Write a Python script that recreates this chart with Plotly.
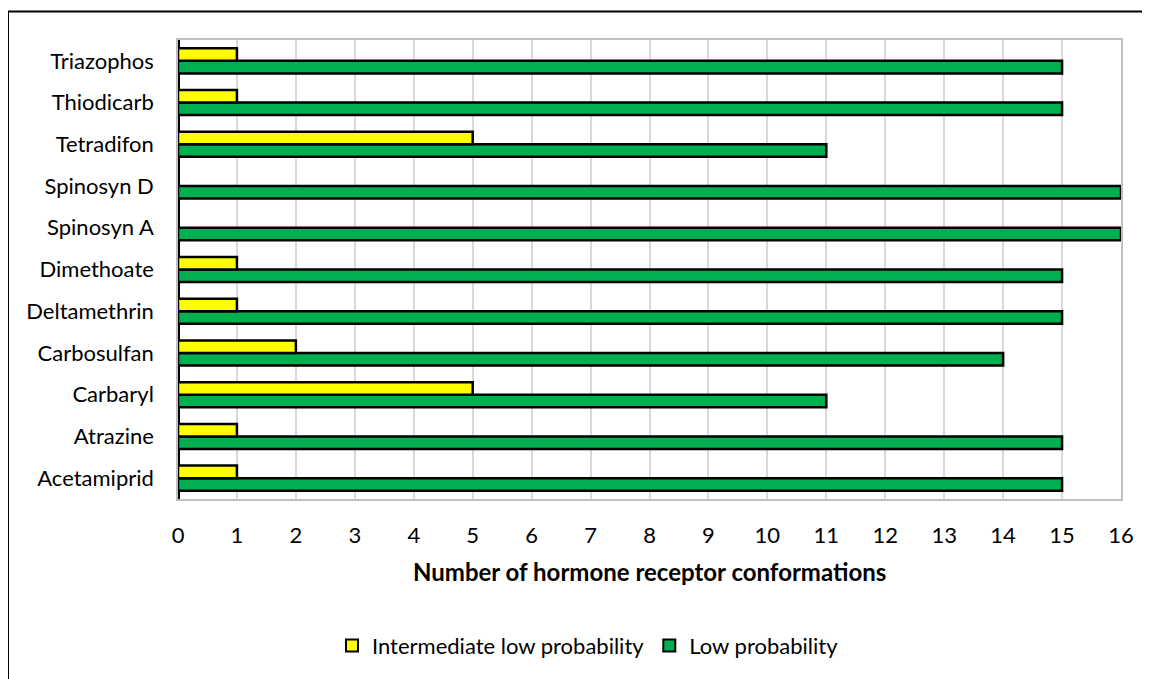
import plotly.graph_objects as go

categories = ["Acetamiprid", "Atrazine", "Carbaryl", "Carbosulfan", "Deltamethrin",
              "Dimethoate", "Spinosyn A", "Spinosyn D", "Tetradifon", "Thiodicarb", "Triazophos"]
intermediate_low = [1, 1, 5, 2, 1, 1, 0, 0, 5, 1, 1]
low = [15, 15, 11, 14, 15, 15, 16, 16, 11, 15, 15]
x_ticks = list(range(0, 17))

# page has an 8px body margin; work in page coordinates and convert
OFF = 8
W, H = 1150 - OFF, 679 - OFF
PL, PR, PT, PB = 178, 1121, 40, 506  # plot area in page coords
L, R, T, B = PL - OFF, W - (PR - OFF), PT - OFF, H - (PB - OFF)
pw, ph = W - L - R, H - T - B

def px(x):
    return (x - OFF - L) / pw

def py(y):
    return (H - B - (y - OFF)) / ph

fig = go.Figure()
fig.add_trace(go.Bar(
    y=categories, x=low, orientation="h", name="Low probability",
    marker=dict(color="#00B050", line=dict(color="#000000", width=2.5)),
    legendrank=2,
))
fig.add_trace(go.Bar(
    y=categories, x=intermediate_low, orientation="h", name="Intermediate low probability",
    marker=dict(color="#FFFF00", line=dict(color="#000000", width=2.5)),
    legendrank=1,
))

font = "Lato, Carlito, Calibri, sans-serif"

fig.update_layout(
    width=W, height=H,
    margin=dict(l=L, r=R, t=T, b=B),
    paper_bgcolor="white", plot_bgcolor="white",
    barmode="group", bargap=0.40, bargroupgap=0,
    font=dict(family=font, size=22, color="#000000"),
    showlegend=True,
    legend=dict(orientation="h", x=px(588), xanchor="center", y=py(655), yanchor="middle",
                font=dict(size=22, color="#000000"), itemsizing="constant", tracegroupgap=0),
    xaxis=dict(range=[0, 16], tickvals=x_ticks, ticktext=[str(v) for v in x_ticks],
               showgrid=True, gridcolor="#D9D9D9", gridwidth=1.5,
               showline=True, mirror=True, linecolor="#BFBFBF", linewidth=1.5,
               zeroline=True, zerolinecolor="#000000", zerolinewidth=2.5,
               ticks="", ticklabelstandoff=16, tickfont=dict(size=22)),
    yaxis=dict(showgrid=False, showline=True, mirror=True, linecolor="#BFBFBF", linewidth=1.5,
               ticks="", ticklabelstandoff=18, tickfont=dict(size=22)),
    annotations=[dict(text="<b>Number of hormone receptor conformations</b>", xref="paper", yref="paper",
                      x=px(649), y=py(580), xanchor="center", yanchor="middle", showarrow=False,
                      font=dict(size=24, color="#000000"))],
    shapes=[
        dict(type="line", xref="paper", yref="paper", x0=px(8), x1=px(8), y0=py(11), y1=py(700),
             line=dict(color="#000000", width=2)),
        dict(type="line", xref="paper", yref="paper", x0=px(8), x1=px(1170), y0=py(11), y1=py(11),
             line=dict(color="#000000", width=2)),
    ],
)

fig.write_html("out.html")
